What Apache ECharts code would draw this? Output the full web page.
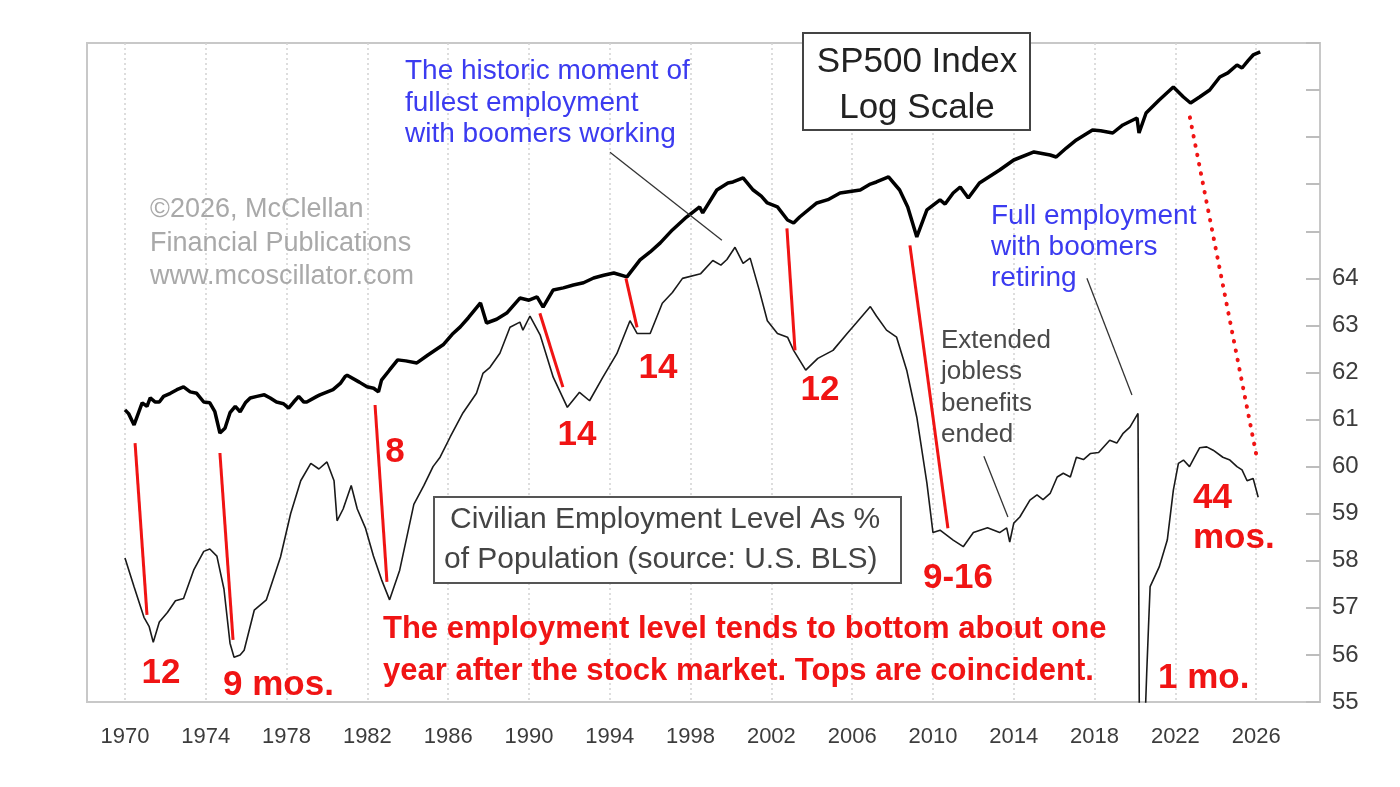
<!DOCTYPE html>
<html>
<head>
<meta charset="utf-8">
<script src="https://cdn.jsdelivr.net/npm/echarts@6/dist/echarts.min.js"></script>
<style>
  html, body { margin: 0; padding: 0; background: #fff; }
  #main { width: 1400px; height: 787px; }
</style>
</head>
<body>
<div id="main"></div>
<script>
// x axis ticks (years) and right axis labels
const yearTicks = [1970, 1974, 1978, 1982, 1986, 1990, 1994, 1998, 2002, 2006, 2010, 2014, 2018, 2022, 2026]
const empTickMax = 64

// SP500 index (log scale)
const spYears = [1970.0, 1970.18, 1970.45, 1970.6, 1970.85, 1971.09, 1971.25, 1971.5, 1971.7, 1971.91,
  1972.25, 1972.57, 1972.9, 1973.23, 1973.55, 1973.9, 1974.2, 1974.45, 1974.7, 1974.95,
  1975.2, 1975.46, 1975.7, 1975.96, 1976.2, 1976.53, 1976.9, 1977.19, 1977.5, 1977.85,
  1978.1, 1978.35, 1978.6, 1978.85, 1979.0, 1979.5, 1979.65, 1980.3, 1980.66, 1980.9,
  1981.0, 1981.6, 1981.98, 1982.31, 1982.55, 1982.7, 1983.1, 1983.5, 1983.9, 1984.45,
  1985.0, 1985.75, 1986.2, 1986.6, 1987.0, 1987.6, 1987.9, 1988.4, 1988.9, 1989.55,
  1990.0, 1990.4, 1990.7, 1991.2, 1991.7, 1992.2, 1992.7, 1993.2, 1993.7, 1994.2,
  1994.85, 1995.5, 1996.0, 1996.5, 1997.1, 1997.8, 1998.45, 1998.6, 1999.3, 1999.85,
  2000.1, 2000.6, 2001.1, 2001.5, 2001.8, 2002.3, 2002.8, 2003.1, 2003.4, 2004.25,
  2004.8, 2005.4, 2006.4, 2006.9, 2007.2, 2007.8, 2008.35, 2008.75, 2009.2, 2009.7,
  2010.35, 2010.6, 2011.0, 2011.35, 2011.75, 2012.3, 2013.3, 2014.0, 2015.0, 2015.8,
  2016.1, 2016.6, 2017.1, 2017.9, 2018.3, 2018.9, 2019.4, 2020.1, 2020.2, 2020.55,
  2021.2, 2021.9, 2022.4, 2022.75, 2023.2, 2023.7, 2024.2, 2024.6, 2025.05, 2025.3,
  2025.6, 2025.85, 2026.2]
const spIndex = [90, 86, 75, 83, 98, 94, 104, 99, 99, 106,
  110, 115, 119, 112, 110, 99, 98, 88, 68, 72,
  87, 94, 88, 98, 104, 106, 108, 104, 99, 97,
  92, 99, 106, 99, 99, 106, 108, 115, 124, 135,
  137, 126, 119, 117, 112, 129, 146, 165, 163, 159,
  175, 198, 225, 246, 275, 329, 258, 270, 291, 349,
  340, 354, 313, 385, 395, 409, 420, 445, 460, 473,
  451, 554, 610, 681, 797, 932, 1053, 979, 1293, 1408,
  1425, 1496, 1293, 1200, 1105, 1053, 899, 867, 932, 1105,
  1150, 1247, 1293, 1390, 1425, 1514, 1293, 1053, 732, 1015,
  1146, 1090, 1247, 1341, 1174, 1408, 1648, 1860, 2050, 1977,
  1929, 2150, 2371, 2676, 2650, 2580, 2843, 3095, 2580, 3289,
  3849, 4506, 3990, 3712, 3992, 4346, 5088, 5350, 5883, 5673,
  6200, 6642, 6888]

// civilian employment level as % of population
const empYears = [1970.0, 1970.45, 1970.94, 1971.2, 1971.4, 1971.7, 1972.1, 1972.5, 1972.9, 1973.4,
  1973.9, 1974.2, 1974.55, 1974.9, 1975.2, 1975.4, 1975.7, 1975.9, 1976.4, 1977.0,
  1977.7, 1978.2, 1978.7, 1979.2, 1979.6, 1980.0, 1980.35, 1980.5, 1980.8, 1981.2,
  1981.5, 1981.9, 1982.3, 1982.7, 1983.1, 1983.6, 1984.0, 1984.3, 1984.8, 1985.25,
  1985.6, 1986.1, 1986.73, 1987.4, 1987.72, 1988.07, 1988.56, 1989.06, 1989.55, 1989.7,
  1990.05, 1990.55, 1991.2, 1991.9, 1992.5, 1993.0, 1993.66, 1994.35, 1995.0, 1995.35,
  1996.0, 1996.6, 1997.1, 1997.6, 1998.5, 1999.1, 1999.5, 1999.8, 2000.2, 2000.6,
  2000.95, 2001.4, 2001.8, 2002.3, 2002.8, 2003.1, 2003.7, 2004.3, 2005.05, 2005.75,
  2006.2, 2006.9, 2007.2, 2007.7, 2008.2, 2008.7, 2009.2, 2009.7, 2010.0, 2010.35,
  2011.0, 2011.5, 2012.0, 2012.7, 2013.3, 2013.65, 2013.8, 2014.0, 2014.3, 2014.8,
  2015.15, 2015.45, 2015.8, 2016.15, 2016.45, 2016.8, 2017.1, 2017.45, 2017.8, 2018.2,
  2018.75, 2019.1, 2019.4, 2019.75, 2020.15, 2020.25, 2020.42, 2020.5, 2020.58, 2020.67,
  2020.75, 2021.2, 2021.6, 2021.9, 2022.15, 2022.4, 2022.7, 2022.95, 2023.2, 2023.55,
  2023.87, 2024.35, 2024.7, 2025.05, 2025.3, 2025.55, 2025.85, 2026.1]
const empLevel = [58.06, 57.45, 56.8, 56.6, 56.27, 56.7, 56.9, 57.15, 57.2, 57.8,
  58.2, 58.25, 58.1, 57.4, 56.25, 55.95, 56.0, 56.1, 56.95, 57.17,
  58.08, 59.0, 59.7, 60.07, 59.95, 60.1, 59.7, 58.85, 59.1, 59.6,
  59.1, 58.7, 58.1, 57.6, 57.17, 57.8, 58.6, 59.2, 59.6, 60.0,
  60.2, 60.63, 61.14, 61.56, 61.98, 62.11, 62.41, 62.96, 63.07, 62.9,
  63.2, 62.8, 61.9, 61.26, 61.58, 61.4, 61.9, 62.4, 63.1, 62.83,
  62.83, 63.47, 63.7, 64.0, 64.1, 64.38, 64.28, 64.4, 64.66, 64.32,
  64.43, 63.75, 63.1, 62.83, 62.75, 62.47, 62.05, 62.3, 62.47, 62.83,
  63.05, 63.4, 63.2, 62.9, 62.75, 62.05, 61.05, 59.65, 58.6, 58.65,
  58.44, 58.3, 58.6, 58.7, 58.6, 58.7, 58.4, 58.8, 58.93, 59.29,
  59.4, 59.3, 59.43, 59.78, 59.86, 59.78, 60.2, 60.15, 60.28, 60.3,
  60.56, 60.5, 60.7, 60.84, 61.13, 51.3, 52.8, 54.6, 55.6, 56.6,
  57.45, 57.87, 58.44, 59.5, 60.07, 60.14, 60.0, 60.2, 60.4, 60.42,
  60.35, 60.2, 60.14, 60.0, 59.93, 59.7, 59.75, 59.35]

// market low -> employment low connectors, [x1, y1, x2, y2] in (year, employment %) units
const lagLines = [
  [1970.50, 60.50, 1971.09, 56.85],
  [1974.70, 60.29, 1975.35, 56.32],
  [1982.38, 61.31, 1982.97, 57.55],
  [1990.54, 63.26, 1991.68, 61.69],
  [1994.80, 64.00, 1995.35, 62.96],
  [2002.77, 65.06, 2003.17, 62.47],
  [2008.86, 64.70, 2010.74, 58.69]
]
const openLag = [2022.72, 67.42, 2026.04, 60.18]
const pointerLines = [
  [1994.01, 66.68, 1999.55, 64.81],
  [2017.62, 64.00, 2019.85, 61.52],
  [2012.52, 60.22, 2013.71, 58.93]
]

const FONT = '"Liberation Sans", Arial, Helvetica, sans-serif'
const RED = '#f01414'
const BLUE = '#3b3bf0'

function txt(x, y, text, size, color, opts) {
  opts = opts || {}
  return {
    type: 'text', x: x, y: y, z: 100,
    style: {
      text: text,
      fill: color,
      font: (opts.bold ? 'bold ' : '') + size + 'px ' + FONT,
      textAlign: opts.align || 'left',
      textVerticalAlign: opts.valign || 'middle',
      lineHeight: opts.lh
    }
  }
}

function segs(list, style) {
  return list.map(s => [
    { coord: [s[0], s[1]], lineStyle: style },
    { coord: [s[2], s[3]] }
  ])
}

const chart = echarts.init(document.getElementById('main'))
chart.setOption({
  animation: false,
  backgroundColor: '#fff',
  grid: {
    left: 87, right: 80, top: 43, bottom: 85,
    show: true, borderColor: '#c8c8c8', borderWidth: 2, backgroundColor: '#fff'
  },
  xAxis: {
    type: 'value',
    min: 1968.12,
    max: 2029.16,
    axisLine: { show: false },
    axisTick: { show: false, customValues: yearTicks },
    axisLabel: {
      customValues: yearTicks,
      formatter: v => String(v),
      color: '#3c3c3c', fontSize: 22, fontFamily: FONT, margin: 24
    },
    splitLine: { show: true, lineStyle: { color: '#d2d2d2', width: 1.5, type: [2, 3] } }
  },
  yAxis: [{
    type: 'value',
    position: 'right',
    min: 55, max: 69, interval: 1,
    axisLine: { show: false },
    axisTick: { show: true, inside: true, length: 14, lineStyle: { color: '#bdbdbd', width: 2 } },
    axisLabel: {
      color: '#3c3c3c', fontSize: 24, fontFamily: FONT, margin: 12,
      formatter: v => (v <= empTickMax ? String(v) : '')
    },
    splitLine: { show: false }
  }, {
    type: 'log',
    logBase: 10,
    min: 2.61, max: 7680,
    show: false,
    position: 'left',
    splitLine: { show: false }
  }],
  series: [{
    name: 'Employment',
    type: 'line',
    yAxisIndex: 0,
    data: empYears.map((y, i) => [y, empLevel[i]]),
    showSymbol: false,
    lineStyle: { color: '#1a1a1a', width: 1.6 },
    z: 3,
    markLine: {
      silent: true,
      symbol: ['none', 'none'],
      label: { show: false },
      data: segs(lagLines, { color: RED, width: 3, type: 'solid' })
        .concat(segs([openLag], { color: RED, width: 4, type: [0.5, 9], cap: 'round' }))
        .concat(segs(pointerLines, { color: '#333', width: 1.3, type: 'solid' }))
    }
  }, {
    name: 'SP500',
    type: 'line',
    yAxisIndex: 1,
    data: spYears.map((y, i) => [y, spIndex[i]]),
    showSymbol: false,
    lineStyle: { color: '#000', width: 3.5 },
    z: 4
  }],
  graphic: [
    { type: 'rect', shape: { x: 803, y: 33, width: 227, height: 97 },
      style: { fill: '#fff', stroke: '#444', lineWidth: 2 }, z: 99 },
    txt(917, 62, 'SP500 Index', 35, '#222', { align: 'center' }),
    txt(917, 108, 'Log Scale', 35, '#222', { align: 'center' }),
    txt(405, 56, 'The historic moment of\nfullest employment\nwith boomers working', 28, BLUE, { valign: 'top', lh: 31.5 }),
    txt(150, 193, '©2026, McClellan\nFinancial Publications\nwww.mcoscillator.com', 27, '#a9a9a9', { valign: 'top', lh: 33.5 }),
    txt(991, 201, 'Full employment\nwith boomers\nretiring', 28, BLUE, { valign: 'top', lh: 31 }),
    txt(941, 325, 'Extended\njobless\nbenefits\nended', 26, '#4a4a4a', { valign: 'top', lh: 31.5 }),
    { type: 'rect', shape: { x: 434, y: 497, width: 467, height: 86 },
      style: { fill: '#fff', stroke: '#555', lineWidth: 2 }, z: 99 },
    txt(450, 520, 'Civilian Employment Level As %', 30, '#444'),
    txt(444, 560, 'of Population (source: U.S. BLS)', 30, '#444'),
    txt(383, 608, 'The employment level tends to bottom about one\nyear after the stock market. Tops are coincident.', 31, RED, { bold: true, valign: 'top', lh: 42 }),
    txt(161, 673, '12', 35, RED, { bold: true, align: 'center' }),
    txt(223, 685, '9 mos.', 35, RED, { bold: true }),
    txt(395, 452, '8', 35, RED, { bold: true, align: 'center' }),
    txt(577, 435, '14', 35, RED, { bold: true, align: 'center' }),
    txt(658, 368, '14', 35, RED, { bold: true, align: 'center' }),
    txt(820, 390, '12', 35, RED, { bold: true, align: 'center' }),
    txt(923, 578, '9-16', 35, RED, { bold: true }),
    txt(1158, 678, '1 mo.', 35, RED, { bold: true }),
    txt(1193, 478, '44\nmos.', 35, RED, { bold: true, valign: 'top', lh: 40 })
  ]
})
</script>
</body>
</html>
